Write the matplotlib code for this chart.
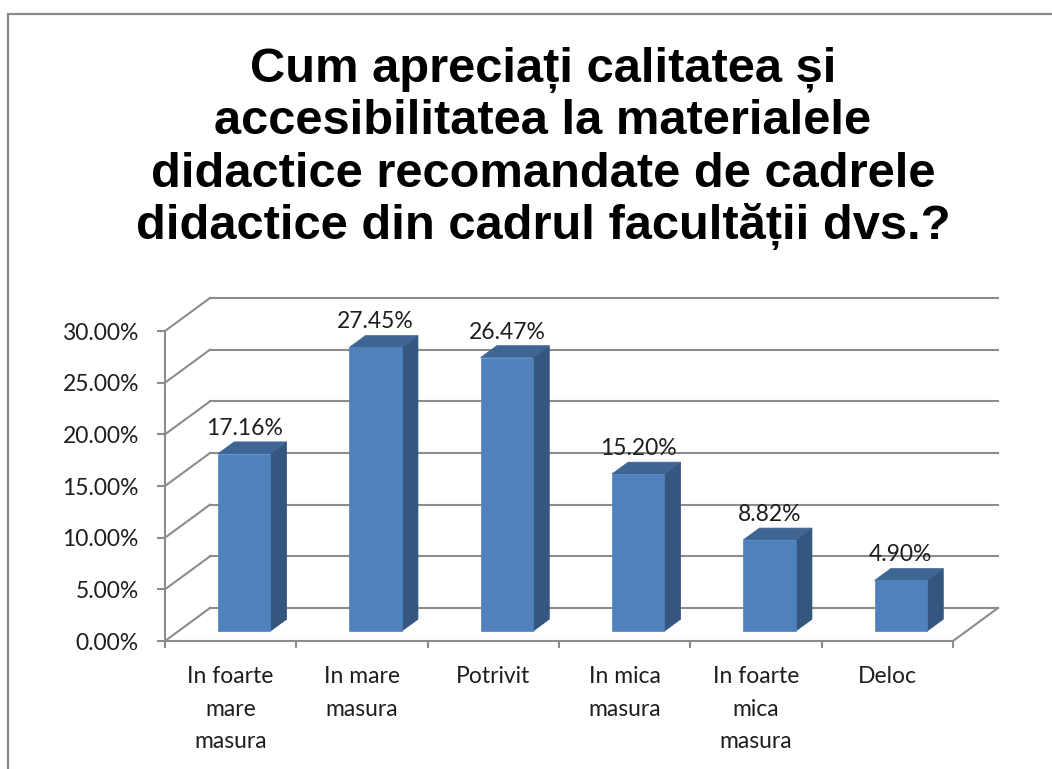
import matplotlib
matplotlib.use("Agg")
import matplotlib.pyplot as plt
from matplotlib.patches import Polygon, Rectangle
import numpy as np

# ---------------- data ----------------
categories = ["In foarte\nmare\nmasura", "In mare\nmasura", "Potrivit",
              "In mica\nmasura", "In foarte\nmica\nmasura", "Deloc"]
values = [17.16, 27.45, 26.47, 15.20, 8.82, 4.90]
y_ticks = [0, 5, 10, 15, 20, 25, 30]
y_tick_labels = ["0.00%", "5.00%", "10.00%", "15.00%", "20.00%", "25.00%", "30.00%"]
value_labels = ["17.16%", "27.45%", "26.47%", "15.20%", "8.82%", "4.90%"]
title_lines = ["Cum apreciați calitatea și",
               "accesibilitatea la materialele",
               "didactice recomandate de cadrele",
               "didactice din cadrul facultății dvs.?"]

# ---------------- style ----------------
W, H = 1052, 769
GRID = "#8c8c8c"
FRONT = "#4F81BD"
SIDE = "#34567F"
TOP = "#3E6594"
TXT = "#1e1e1e"
LABEL_FONT = ["Lato", "DejaVu Sans"]
TITLE_FONT = ["Liberation Sans", "DejaVu Sans"]
DEPTH_PX = (45.0, 33.0)   # full depth of the 3-D box, in pixels
BAR_D0, BAR_D1 = 0.30, 0.66
BAR_HALF = 0.20

fig = plt.figure(figsize=(W / 100, H / 100), dpi=100)
fig.patch.set_facecolor("white")

ax = fig.add_axes([165 / W, 1 - 641 / H, (953 - 165) / W, (641 - 331) / H])
n = len(categories)
ax.set_xlim(-0.5, n - 0.5)
ax.set_ylim(0, 30)
ax.patch.set_visible(False)
for s in ["top", "right"]:
    ax.spines[s].set_visible(False)
for s in ["left", "bottom"]:
    ax.spines[s].set_color(GRID)
    ax.spines[s].set_linewidth(1.5)

# convert pixel depth into data units via the axes' own transform
p0 = ax.transData.transform((0, 0))
p1 = ax.transData.transform((1, 1))
ddx = DEPTH_PX[0] / (p1[0] - p0[0])
ddy = DEPTH_PX[1] / (p1[1] - p0[1])


def P(x, y, d):
    return (x + d * ddx, y + d * ddy)


x0, x1 = -0.5, n - 0.5
# back wall gridlines and left wall diagonals
for t in y_ticks:
    a, b = P(x0, t, 1), P(x1, t, 1)
    ax.plot([a[0], b[0]], [a[1], b[1]], color=GRID, lw=1.5, clip_on=False, zorder=1)
    a, b = P(x0, t, 0), P(x0, t, 1)
    ax.plot([a[0], b[0]], [a[1], b[1]], color=GRID, lw=1.5, clip_on=False, zorder=1)
# right floor edge
a, b = P(x1, 0, 0), P(x1, 0, 1)
ax.plot([a[0], b[0]], [a[1], b[1]], color=GRID, lw=1.5, clip_on=False, zorder=1)

# bars
for i, v in enumerate(values):
    c = i
    front = [P(c - BAR_HALF, 0, BAR_D0), P(c + BAR_HALF, 0, BAR_D0),
             P(c + BAR_HALF, v, BAR_D0), P(c - BAR_HALF, v, BAR_D0)]
    side = [P(c + BAR_HALF, 0, BAR_D0), P(c + BAR_HALF, 0, BAR_D1),
            P(c + BAR_HALF, v, BAR_D1), P(c + BAR_HALF, v, BAR_D0)]
    top = [P(c - BAR_HALF, v, BAR_D0), P(c + BAR_HALF, v, BAR_D0),
           P(c + BAR_HALF, v, BAR_D1), P(c - BAR_HALF, v, BAR_D1)]
    for poly, col in ((side, SIDE), (top, TOP), (front, FRONT)):
        ax.add_patch(Polygon(poly, closed=True, facecolor=col, edgecolor=col,
                             lw=0.5, clip_on=False, zorder=3))
    lx, ly = P(c, v, BAR_D0)
    ax.annotate(value_labels[i], xy=(lx, ly), xytext=(0, 13.7),
                textcoords="offset points", ha="center", va="baseline",
                fontsize=16.5, family=LABEL_FONT, color=TXT, zorder=5,
                annotation_clip=False)

# y axis
ax.set_yticks(y_ticks)
ax.set_yticklabels(y_tick_labels, family=LABEL_FONT, fontsize=16.5, color=TXT)
ax.tick_params(axis="y", length=5.8, width=1.5, color=GRID, pad=13)

# x axis: boundary ticks (major) and labels at centres (minor)
ax.set_xticks(np.arange(n + 1) - 0.5)
ax.set_xticklabels([])
ax.tick_params(axis="x", which="major", length=5.2, width=1.5, color=GRID)
ax.set_xticks(np.arange(n), minor=True)
ax.set_xticklabels(categories, minor=True, family=LABEL_FONT, fontsize=16.5,
                   color=TXT, linespacing=1.68)
ax.tick_params(axis="x", which="minor", length=0, pad=18)

# title (one text per line, centred)
base = [82, 134.5, 187, 239.5]
for line, b in zip(title_lines, base):
    fig.text(543 / W, 1 - b / H, line, ha="center", va="baseline",
             fontsize=35.2, fontweight="bold", family=TITLE_FONT, color="black")

# chart frame
fig.add_artist(Rectangle((8 / W, -0.1), 1.2, 1.1 - 14 / H, transform=fig.transFigure,
                         fill=False, edgecolor="#8a8a8a", lw=1.6))

fig.savefig("out.png", dpi=100, facecolor="white")
